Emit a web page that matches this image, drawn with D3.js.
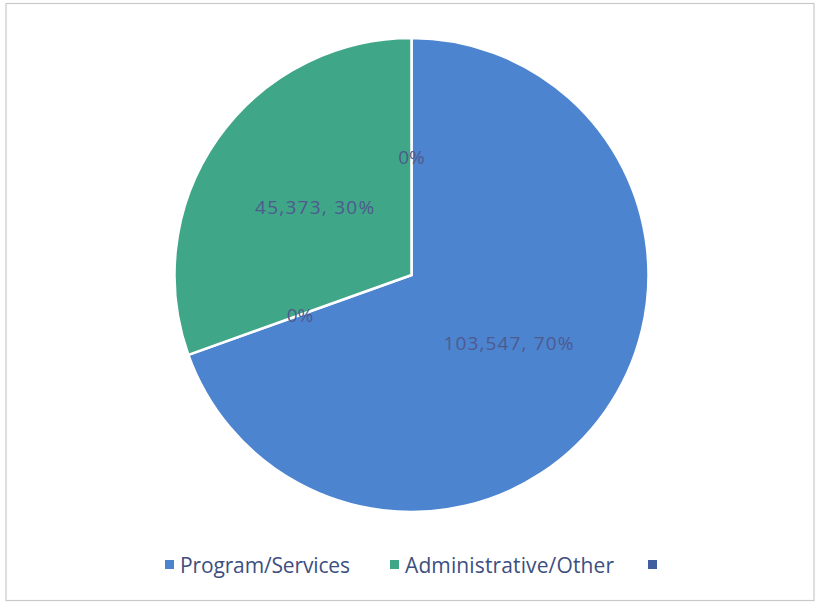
<!DOCTYPE html>
<html><head><meta charset="utf-8">
<script src="https://cdn.jsdelivr.net/npm/d3@7"></script>
<style>body{margin:0;background:#fff}svg{display:block}</style>
</head><body>
<svg id="c" width="817" height="606"></svg>
<script>
const categories = ["Program/Services", "", "Administrative/Other", ""];
const values = [103547, 0, 45373, 0];
const labelTexts = ["103,547, 70%", "0%", "45,373, 30%", "0%"];
const legendNames = ["Program/Services", "Administrative/Other", ""];
const colors = ["#4d84d0", "#3f4f8f", "#40a688", "#3f5fa0"];
const legendColors = ["#4d84d0", "#40a688", "#3f5f9f"];

const svg = d3.select("#c");
svg.append("rect").attr("x",6).attr("y",3.5).attr("width",808).attr("height",597)
  .attr("fill","#fff").attr("stroke","#c8c8c8").attr("stroke-width",1.2);

const cx = 411.5, cy = 275, r = 237;
const pie = d3.pie().sort(null).value(d => d)(values);
const arc = d3.arc().innerRadius(0).outerRadius(r);
const g = svg.append("g").attr("transform",`translate(${cx},${cy})`);
g.selectAll("path").data(pie).enter().append("path")
  .attr("d", arc).attr("fill",(d,i)=>colors[i])
  .attr("stroke","#fff").attr("stroke-width",(d)=>d.value>0?2.5:0);

const labelArc = d3.arc().innerRadius(r*0.5).outerRadius(r*0.5);
g.selectAll("text.lbl").data(pie).enter().append("text")
  .attr("class","lbl")
  .attr("transform",d=>`translate(${labelArc.centroid(d)})`)
  .attr("text-anchor","middle").attr("dominant-baseline","central")
  .attr("font-family","'Open Sans','Liberation Sans',sans-serif").attr("font-size",19)
  .attr("textLength",(d,i)=>i===0?130:(i===2?119:null))
  .attr("fill","#4d5a8e")
  .text((d,i)=>labelTexts[i]);

const legendX = [165, 390, 648];
const lg = svg.append("g");
legendNames.forEach((n,i)=>{
  lg.append("rect").attr("x",legendX[i]).attr("y",560).attr("width",9).attr("height",9).attr("fill",legendColors[i]);
  lg.append("text").attr("x",legendX[i]+15).attr("y",565).attr("dominant-baseline","central")
    .attr("font-family","'Open Sans','Liberation Sans',sans-serif").attr("font-size",21)
    .attr("textLength", i===0?170:(i===1?209:null))
    .attr("fill","#3d4f7f").text(n);
});
</script>
</body></html>
